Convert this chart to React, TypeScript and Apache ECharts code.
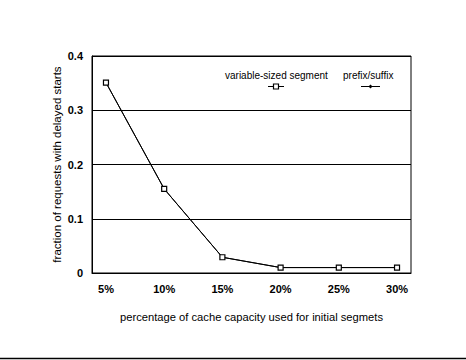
import React, { useEffect, useRef } from "react";
import * as echarts from "echarts";

const capacity = [5, 10, 15, 20, 25, 30];
const variableSized = [0.351, 0.155, 0.029, 0.01, 0.01, 0.01];
const prefixSuffix = [0.351, 0.155, 0.029, 0.01, 0.01, 0.01];
const yTicks = [0, 0.1, 0.2, 0.3, 0.4];

const FONT = "'Liberation Sans', Arial, sans-serif";

export default function App() {
  const ref = useRef<HTMLDivElement>(null);
  useEffect(() => {
    const chart = echarts.init(ref.current!, null, { renderer: "svg" });
    chart.setOption({
      animation: false,
      backgroundColor: "#fff",
      grid: {
        left: 92,
        right: 55,
        top: 56,
        bottom: 87,
        show: true,
        borderColor: "#000",
        borderWidth: 1,
        backgroundColor: "transparent",
      },
      xAxis: {
        type: "value",
        min: 3.8,
        max: 31.2,
        name: "percentage of cache capacity used for initial segmets",
        nameLocation: "middle",
        nameGap: 38,
        nameTextStyle: { fontFamily: FONT, fontSize: 11.2, color: "#000" },
        axisLine: { show: true, lineStyle: { color: "#000", width: 1 } },
        axisTick: { show: false },
        splitLine: { show: false },
        axisLabel: {
          customValues: capacity,
          formatter: (v: number) => v + "%",
          fontFamily: FONT,
          fontSize: 11,
          fontWeight: "bold",
          color: "#000",
          margin: 10,
        },
      },
      yAxis: {
        type: "value",
        min: 0,
        max: 0.4,
        interval: 0.1,
        name: "fraction of requests with delayed starts",
        nameLocation: "middle",
        nameGap: 29,
        nameMoveOverlap: false,
        nameTextStyle: { fontFamily: FONT, fontSize: 11.5, color: "#000" },
        axisLine: { show: true, lineStyle: { color: "#000", width: 1 } },
        axisTick: { show: false },
        splitLine: { show: true, lineStyle: { color: "#000", width: 1 } },
        axisLabel: {
          formatter: (v: number) => (yTicks.includes(Math.round(v * 10) / 10) ? (v === 0 ? "0" : v.toFixed(1)) : ""),
          fontFamily: FONT,
          fontSize: 11,
          fontWeight: "bold",
          color: "#000",
          margin: 9,
        },
      },
      series: [
        {
          name: "prefix/suffix",
          type: "line",
          data: capacity.map((c, i) => [c, prefixSuffix[i]]),
          symbol: "diamond",
          symbolSize: 3,
          lineStyle: { color: "#000", width: 1 },
          itemStyle: { color: "#000" },
          z: 2,
        },
        {
          name: "variable-sized segment",
          type: "line",
          data: capacity.map((c, i) => [c, variableSized[i]]),
          symbol: "rect",
          symbolSize: 5,
          showAllSymbol: true,
          lineStyle: { color: "#000", width: 1 },
          itemStyle: { color: "#fff", borderColor: "#000", borderWidth: 1.2 },
          z: 3,
        },
      ],
      graphic: [
        {
          type: "text",
          left: 225,
          top: 70,
          style: { text: "variable-sized segment", fontFamily: FONT, fontSize: 10, fill: "#000" },
        },
        { type: "line", shape: { x1: 268, y1: 86.5, x2: 284, y2: 86.5 }, style: { stroke: "#000", lineWidth: 1 } },
        { type: "rect", shape: { x: 273.5, y: 84, width: 5, height: 5 }, style: { fill: "#fff", stroke: "#000", lineWidth: 1.2 } },
        {
          type: "text",
          left: 343,
          top: 70,
          style: { text: "prefix/suffix", fontFamily: FONT, fontSize: 10, fill: "#000" },
        },
        { type: "line", shape: { x1: 361, y1: 86.5, x2: 380, y2: 86.5 }, style: { stroke: "#000", lineWidth: 1 } },
        { type: "polygon", shape: { points: [[370.5, 84.5], [372.5, 86.5], [370.5, 88.5], [368.5, 86.5]] }, style: { fill: "#000" } },
        { type: "line", shape: { x1: 0, y1: 358.5, x2: 466, y2: 358.5 }, style: { stroke: "#000", lineWidth: 1.5 } },
      ],
    });
    return () => chart.dispose();
  }, []);
  return <div ref={ref} style={{ position: "fixed", left: 0, top: 0, width: 466, height: 360 }} />;
}
